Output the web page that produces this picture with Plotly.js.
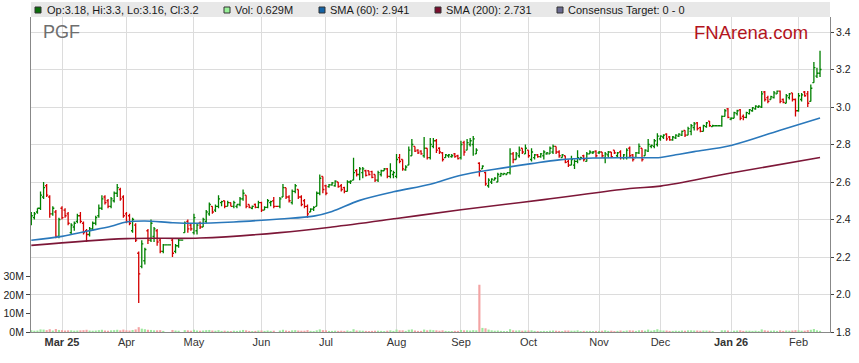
<!DOCTYPE html>
<html><head><meta charset="utf-8">
<script src="https://cdn.plot.ly/plotly-3.0.1.min.js"></script>
<style>html,body{margin:0;padding:0;background:#fff}#chart{width:859px;height:363px}</style>
</head><body><div id="chart"></div><script>
// ---------- DATA ----------
const firstDate = '2025-02-17';   // first trading day shown (weekday axis)
const open = [
 2.38,2.41,2.44,2.46,2.52,2.58,2.52,2.43,2.44,2.31,
 2.46,2.45,2.43,2.33,2.36,2.39,2.42,2.38,2.34,2.32,2.35,2.38,2.42,2.46,2.52,2.50,2.47,2.50,2.54,2.56,2.52,
 2.43,2.42,2.34,2.37,2.22,2.15,2.18,2.34,2.29,2.31,2.34,2.29,2.23,2.265,2.265,2.29,2.23,2.26,2.29,2.33,2.39,2.37,
 2.33,2.34,2.38,2.36,2.39,2.43,2.47,2.45,2.47,2.49,2.50,2.47,2.49,2.47,2.47,2.48,2.51,2.53,2.48,2.46,2.48,2.465,
 2.49,2.45,2.465,2.49,2.50,2.47,2.47,2.52,2.57,2.52,2.49,2.55,2.56,2.52,2.50,2.47,2.44,2.455,2.47,2.54,2.63,
 2.58,2.575,2.585,2.58,2.60,2.58,2.57,2.55,2.60,2.61,2.66,2.64,2.65,2.66,2.66,2.655,2.64,2.61,2.64,2.66,2.67,2.63,2.64,
 2.63,2.73,2.72,2.665,2.69,2.74,2.79,2.77,2.765,2.74,2.78,2.73,2.79,2.82,2.78,2.755,2.73,2.74,2.735,2.75,2.74,
 2.73,2.81,2.77,2.80,2.80,2.75,2.70,2.67,2.65,2.58,2.60,2.61,2.60,2.63,2.64,2.64,2.65,2.75,2.72,2.74,2.78,2.75,
 2.77,2.72,2.73,2.745,2.735,2.74,2.75,2.75,2.76,2.79,2.76,2.73,2.74,2.71,2.69,2.69,2.71,2.72,2.74,2.71,2.75,2.755,2.765,
 2.755,2.76,2.73,2.745,2.76,2.77,2.74,2.76,2.73,2.73,2.78,2.745,2.73,2.755,2.78,2.74,2.765,2.79,2.79,2.80,
 2.83,2.84,2.855,2.84,2.825,2.835,2.845,2.85,2.875,2.85,2.87,2.89,2.915,2.89,2.87,2.895,2.925,2.895,2.90,2.90,2.90,2.95,2.99,
 2.935,2.94,2.965,2.985,2.95,2.945,2.965,2.98,2.99,3.00,3.00,3.08,3.05,3.04,3.05,3.07,3.085,3.04,3.02,3.05,3.075,3.04,
 2.98,3.04,3.08,3.07,3.03,3.13,3.165,3.18
];
const high = [
 2.44,2.44,2.46,2.55,2.60,2.59,2.53,2.47,2.45,2.41,
 2.47,2.46,2.44,2.38,2.39,2.43,2.44,2.39,2.35,2.36,2.39,2.42,2.48,2.53,2.53,2.51,2.52,2.55,2.59,2.57,2.53,
 2.44,2.43,2.41,2.38,2.23,2.29,2.25,2.35,2.40,2.36,2.35,2.30,2.27,2.265,2.265,2.30,2.27,2.30,2.29,2.39,2.40,2.38,
 2.43,2.38,2.39,2.41,2.45,2.49,2.47,2.48,2.53,2.50,2.50,2.50,2.49,2.50,2.48,2.52,2.56,2.53,2.48,2.475,2.485,2.50,
 2.495,2.47,2.51,2.50,2.52,2.47,2.52,2.59,2.57,2.53,2.56,2.59,2.56,2.53,2.51,2.48,2.46,2.47,2.55,2.64,2.63,
 2.585,2.59,2.60,2.61,2.60,2.59,2.575,2.61,2.61,2.73,2.67,2.68,2.68,2.665,2.66,2.66,2.64,2.66,2.665,2.675,2.675,2.70,2.66,
 2.75,2.75,2.72,2.69,2.79,2.83,2.79,2.775,2.77,2.84,2.78,2.835,2.835,2.83,2.785,2.76,2.75,2.75,2.75,2.755,2.745,
 2.82,2.82,2.83,2.835,2.845,2.78,2.705,2.69,2.655,2.62,2.62,2.625,2.65,2.65,2.65,2.65,2.78,2.76,2.76,2.79,2.78,2.80,
 2.77,2.78,2.75,2.75,2.755,2.77,2.76,2.79,2.80,2.79,2.77,2.75,2.74,2.72,2.74,2.72,2.77,2.735,2.745,2.76,2.77,2.765,2.77,
 2.765,2.76,2.76,2.765,2.76,2.77,2.76,2.77,2.75,2.78,2.79,2.75,2.76,2.805,2.78,2.775,2.83,2.80,2.83,2.86,
 2.85,2.855,2.86,2.845,2.845,2.855,2.86,2.875,2.876,2.895,2.91,2.92,2.92,2.895,2.905,2.92,2.925,2.905,2.90,2.90,2.955,2.99,2.995,
 2.945,2.975,2.985,2.99,2.96,2.975,2.99,3.00,3.01,3.01,3.085,3.085,3.06,3.06,3.085,3.088,3.088,3.045,3.07,3.075,3.075,3.045,
 3.075,3.075,3.085,3.085,3.12,3.24,3.21,3.30
];
const low = [
 2.37,2.40,2.43,2.45,2.51,2.52,2.41,2.42,2.30,2.30,
 2.40,2.41,2.37,2.32,2.34,2.38,2.38,2.32,2.28,2.31,2.34,2.37,2.41,2.45,2.48,2.46,2.46,2.49,2.52,2.50,2.41,
 2.38,2.37,2.33,2.28,1.955,2.14,2.16,2.27,2.28,2.28,2.26,2.22,2.22,2.265,2.265,2.20,2.22,2.25,2.29,2.33,2.33,2.34,
 2.32,2.32,2.35,2.36,2.38,2.42,2.43,2.44,2.46,2.47,2.46,2.47,2.47,2.46,2.46,2.47,2.50,2.46,2.46,2.455,2.46,2.46,
 2.44,2.45,2.46,2.47,2.46,2.47,2.46,2.52,2.51,2.49,2.48,2.54,2.51,2.47,2.46,2.41,2.44,2.445,2.47,2.53,2.54,
 2.53,2.57,2.58,2.575,2.57,2.55,2.54,2.55,2.59,2.61,2.63,2.61,2.62,2.63,2.635,2.62,2.60,2.60,2.63,2.66,2.62,2.62,2.62,
 2.62,2.70,2.66,2.66,2.69,2.74,2.76,2.75,2.745,2.73,2.72,2.72,2.78,2.755,2.75,2.71,2.73,2.73,2.73,2.73,2.72,
 2.72,2.74,2.77,2.79,2.74,2.75,2.63,2.67,2.58,2.57,2.59,2.61,2.60,2.63,2.64,2.64,2.64,2.70,2.72,2.73,2.75,2.75,
 2.73,2.71,2.72,2.73,2.73,2.72,2.745,2.75,2.75,2.75,2.73,2.73,2.70,2.68,2.69,2.67,2.70,2.72,2.71,2.71,2.75,2.75,2.73,
 2.75,2.73,2.70,2.73,2.73,2.75,2.73,2.72,2.72,2.72,2.73,2.71,2.73,2.75,2.71,2.74,2.76,2.78,2.78,2.79,
 2.82,2.83,2.82,2.82,2.82,2.83,2.84,2.845,2.84,2.85,2.85,2.875,2.875,2.865,2.87,2.89,2.895,2.895,2.90,2.90,2.895,2.95,2.94,
 2.93,2.94,2.955,2.93,2.93,2.94,2.96,2.975,2.985,2.995,2.995,3.03,3.02,3.04,3.045,3.07,3.02,3.02,3.02,3.04,3.03,2.95,
 2.975,3.03,3.055,3.00,3.03,3.13,3.155,3.16
];
const close = [
 2.42,2.43,2.46,2.53,2.57,2.53,2.43,2.46,2.31,2.40,
 2.41,2.42,2.38,2.37,2.38,2.42,2.39,2.33,2.32,2.35,2.38,2.41,2.46,2.51,2.49,2.47,2.51,2.54,2.57,2.51,2.42,
 2.39,2.38,2.40,2.29,2.11,2.27,2.24,2.29,2.38,2.35,2.28,2.23,2.265,2.265,2.265,2.22,2.26,2.29,2.29,2.38,2.35,2.35,
 2.41,2.37,2.36,2.40,2.44,2.48,2.44,2.47,2.51,2.495,2.47,2.49,2.47,2.49,2.48,2.51,2.54,2.47,2.465,2.47,2.465,2.49,
 2.45,2.465,2.50,2.495,2.47,2.47,2.51,2.57,2.52,2.50,2.55,2.58,2.52,2.48,2.47,2.43,2.455,2.465,2.54,2.62,2.56,
 2.54,2.585,2.595,2.605,2.575,2.56,2.55,2.60,2.605,2.65,2.64,2.67,2.67,2.635,2.64,2.625,2.61,2.65,2.66,2.67,2.63,2.66,2.65,
 2.72,2.71,2.67,2.68,2.77,2.80,2.765,2.755,2.75,2.78,2.73,2.80,2.82,2.77,2.76,2.72,2.745,2.745,2.74,2.735,2.725,
 2.80,2.76,2.81,2.82,2.83,2.77,2.66,2.685,2.59,2.61,2.615,2.62,2.64,2.645,2.645,2.65,2.75,2.72,2.75,2.77,2.76,2.78,
 2.74,2.76,2.745,2.735,2.75,2.76,2.755,2.78,2.79,2.76,2.74,2.745,2.705,2.69,2.72,2.71,2.73,2.73,2.72,2.75,2.76,2.76,2.74,
 2.76,2.74,2.75,2.76,2.735,2.755,2.755,2.73,2.745,2.77,2.74,2.72,2.755,2.79,2.72,2.77,2.80,2.795,2.82,2.845,
 2.845,2.85,2.83,2.825,2.84,2.85,2.855,2.87,2.85,2.885,2.90,2.91,2.885,2.87,2.90,2.915,2.90,2.90,2.90,2.90,2.95,2.98,2.945,
 2.94,2.97,2.98,2.94,2.945,2.97,2.985,2.995,3.005,3.005,3.07,3.04,3.03,3.055,3.075,3.085,3.03,3.025,3.06,3.07,3.04,2.98,
 3.06,3.065,3.06,3.02,3.10,3.21,3.18,3.20
];
// volume in millions of shares
const volume = [
 0.9,0.7,0.8,1.4,1.3,1.0,1.5,0.8,1.6,1.1,
 1.0,0.8,0.9,0.9,0.7,0.8,0.9,1.0,1.2,0.8,0.7,0.8,1.0,1.2,0.8,0.7,0.9,1.0,1.2,0.9,1.3,
 0.9,0.8,1.1,1.4,2.6,1.8,1.5,1.2,1.1,0.9,0.9,1.0,0.6,0,0,1.1,0.8,0.7,0,1.0,0.9,0.7,
 1.2,0.8,0.7,0.8,1.0,1.1,0.8,0.7,1.0,0.6,0.7,0.6,0.5,0.7,0.6,0.8,1.1,0.9,0.6,0.5,0.6,0.8,
 0.8,0.6,0.8,0.6,0.7,0,0.8,1.2,0.8,0.6,0.9,1.0,0.8,0.7,0.7,1.0,0.6,0.5,0.9,1.4,1.0,
 0.9,0.6,0.6,0.7,0.6,0.7,0.6,0.8,0.5,1.5,0.8,0.8,0.7,0.6,0.5,0.6,0.7,0.7,0.6,0.5,0.7,0.9,0.6,
 1.3,0.9,0.9,0.6,1.2,1.4,0.8,0.6,0.6,1.3,0.9,1.2,1.0,0.9,0.7,0.9,0.6,0.5,0.5,0.6,0.6,
 1.1,0.9,0.9,0.8,1.0,0.9,25.5,2.2,2.0,1.3,0.9,0.7,0.8,0.6,0.5,0.5,1.5,0.9,0.8,0.9,0.7,0.8,
 0.8,0.9,0.6,0.5,0.5,0.6,0.5,0.7,0.8,0.7,0.6,0.5,0.8,0.8,0.7,0.7,0.9,0.5,0.6,0.6,0.6,0.5,0.6,
 0.6,0.7,0.9,0.6,0.7,0.5,0.6,0.8,0.6,0.8,0.9,0.8,0.6,0.9,0.9,0.7,1.3,0.7,1.0,1.5,
 0.9,0.8,0.8,0.6,0.6,0.7,0.6,0.8,0.7,0.9,0.9,0.8,0.8,0.7,0.8,0.8,0.7,0.5,0,0,0.9,0.9,0.8,
 0.2,0.7,0.8,0.9,0.6,0.7,0.7,0.6,0.7,0.5,1.4,0.9,0.7,0.7,0.8,0.6,0.9,0.6,0.8,0.7,0.8,1.0,
 0.9,0.7,0.7,1.0,1.2,1.6,0.9,0.629
];
// moving averages at sample dates
const sma60Dates = ['2025-02-17','2025-03-03','2025-03-13','2025-03-25','2025-04-01','2025-04-09','2025-04-22','2025-05-01','2025-05-20','2025-06-10','2025-06-25','2025-07-03','2025-07-16','2025-07-31','2025-08-18','2025-09-01','2025-09-16','2025-10-02','2025-10-15','2025-10-30','2025-11-17','2025-12-01','2025-12-08','2025-12-16','2026-01-01','2026-01-23','2026-02-11'];
const sma60 = [2.289,2.31,2.337,2.364,2.387,2.392,2.383,2.38,2.387,2.403,2.418,2.443,2.502,2.548,2.588,2.636,2.668,2.698,2.718,2.728,2.73,2.731,2.745,2.762,2.795,2.876,2.941];
const sma200Dates = ['2025-02-17','2025-04-01','2025-05-05','2025-06-10','2025-07-03','2025-08-01','2025-09-01','2025-10-08','2025-11-17','2025-12-01','2026-01-01','2026-02-11'];
const sma200 = [2.262,2.298,2.301,2.330,2.360,2.405,2.452,2.506,2.565,2.578,2.648,2.731];
// axes
const monthTickDates = ['2025-03-03','2025-04-01','2025-05-01','2025-06-02','2025-07-01','2025-08-01','2025-09-01','2025-10-01','2025-11-03','2025-12-01','2026-01-01','2026-02-02'];
const monthTickLabels = ['<b>Mar 25</b>','Apr','May','Jun','Jul','Aug','Sep','Oct','Nov','Dec','<b>Jan 26</b>','Feb'];
const priceTicks = [1.8,2.0,2.2,2.4,2.6,2.8,3.0,3.2,3.4];
const priceTickText = ['1.8','2.0','2.2','2.4','2.6','2.8','3.0','3.2','3.4'];
const volTicks = [0,10,20,30];
const volTickText = ['0M','10M','20M','30M'];
const legendItems = ['Op:3.18, Hi:3.3, Lo:3.16, Cl:3.2','Vol: 0.629M','SMA (60): 2.941','SMA (200): 2.731','Consensus Target: 0 - 0'];

// ---------- BUILD ----------
function weekdays(start, n) {
  const out = []; const d = new Date(start + 'T00:00:00Z');
  while (out.length < n) {
    const w = d.getUTCDay();
    if (w !== 0 && w !== 6) out.push(d.toISOString().slice(0, 10));
    d.setUTCDate(d.getUTCDate() + 1);
  }
  return out;
}
const dates = weekdays(firstDate, close.length);
const volColors = close.map((c, i) => c > open[i] ? '#9de89d' : (c < open[i] ? '#f3a3a3' : '#a8a8a8'));

const W = 859, H = 363, ML = 31, MR = 29, MT = 17, MB = 31;
const PW = W - ML - MR, PH = H - MT - MB;
const px = X => (X - ML) / PW;
const py = Y => (H - MB - Y) / PH;

const FONT = 'Liberation Sans, Arial, Helvetica, sans-serif';

const traces = [
  { type: 'bar', x: dates, y: volume, yaxis: 'y2', marker: { color: volColors, line: { width: 0 } },
    width: 0.7 * 86400000, hoverinfo: 'skip' },
  { type: 'scatter', mode: 'lines', x: sma200Dates, y: sma200, line: { color: '#7d1738', width: 1.6, shape: 'spline', smoothing: 1 }, hoverinfo: 'skip' },
  { type: 'scatter', mode: 'lines', x: sma60Dates, y: sma60, line: { color: '#2a78bb', width: 1.6, shape: 'spline', smoothing: 1 }, hoverinfo: 'skip' },
  { type: 'ohlc', x: dates, open: open, high: high, low: low, close: close, tickwidth: 0.5,
    increasing: { line: { color: '#008000', width: 1.3 } },
    decreasing: { line: { color: '#d40000', width: 1.3 } }, hoverinfo: 'skip' }
];

const sqX = [35, 224, 319, 435, 557];
const txX = [47, 235, 330, 446, 568];
const sqFill = ['#0b6e0b', '#98f098', '#1463a5', '#7a0f2e', '#6a6a90'];
const shapes = [
  { type: 'rect', xref: 'paper', yref: 'paper', x0: 0, x1: 1, y0: py(17), y1: py(2), fillcolor: '#e8e8e8', line: { width: 0 }, layer: 'below' }
];
const annotations = [];
legendItems.forEach((t, k) => {
  shapes.push({ type: 'rect', xref: 'paper', yref: 'paper', x0: px(sqX[k]), x1: px(sqX[k] + 6), y0: py(13), y1: py(7),
    fillcolor: sqFill[k], line: { color: '#333', width: 1 } });
  annotations.push({ xref: 'paper', yref: 'paper', x: px(txX[k] - 2), y: py(10), xanchor: 'left', yanchor: 'middle',
    text: t, showarrow: false, font: { family: FONT, size: 11, color: '#1a1a1a' } });
});
annotations.push({ xref: 'paper', yref: 'paper', x: px(41), y: py(32), xanchor: 'left', yanchor: 'middle',
  text: 'PGF', showarrow: false, font: { family: FONT, size: 18, color: '#6e6e6e' } });
annotations.push({ xref: 'paper', yref: 'paper', x: px(810), y: py(32), xanchor: 'right', yanchor: 'middle',
  text: 'FNArena.com', showarrow: false, font: { family: FONT, size: 18.5, color: '#b3141c' } });

const layout = {
  width: W, height: H,
  margin: { l: ML, r: MR, t: MT, b: MB, pad: 0 },
  paper_bgcolor: '#ffffff', plot_bgcolor: '#ffffff',
  showlegend: false,
  font: { family: FONT, size: 11, color: '#222' },
  xaxis: {
    type: 'date', range: ['2025-02-14 21:36', '2026-02-16 06:00'],
    rangebreaks: [{ bounds: ['sat', 'mon'] }], rangeslider: { visible: false },
    tickmode: 'array', tickvals: monthTickDates, ticktext: monthTickLabels,
    showgrid: true, gridcolor: '#dcdcdc', gridwidth: 1, showline: true, linecolor: '#888', linewidth: 1,
    ticks: '', tickfont: { family: FONT, size: 11, color: '#333' }, zeroline: false
  },
  yaxis: {
    side: 'right', range: [1.8, 3.48], tickmode: 'array', tickvals: priceTicks, ticktext: priceTickText,
    showgrid: true, gridcolor: '#dcdcdc', gridwidth: 1, showline: true, linecolor: '#888', linewidth: 1,
    ticks: 'outside', ticklen: 3, tickcolor: '#444', tickfont: { family: FONT, size: 10.5, color: '#222' }, zeroline: false
  },
  yaxis2: {
    overlaying: 'y', side: 'left', range: [0, 170], tickmode: 'array', tickvals: volTicks, ticktext: volTickText,
    showgrid: false, showline: true, linecolor: '#888', linewidth: 1,
    ticks: 'outside', ticklen: 4, tickcolor: '#444', tickfont: { family: FONT, size: 10.5, color: '#222' }, zeroline: false
  },
  shapes: shapes, annotations: annotations
};
Plotly.newPlot('chart', traces, layout, { displayModeBar: false, staticPlot: true });
</script></body></html>
